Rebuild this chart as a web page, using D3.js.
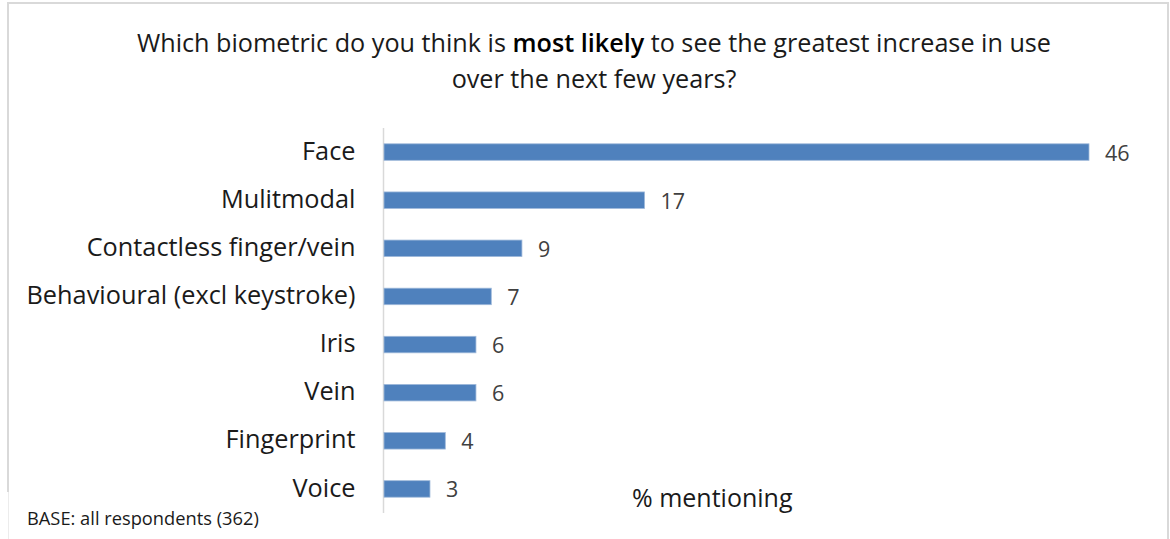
<!DOCTYPE html>
<html>
<head>
<meta charset="utf-8">
<script src="https://cdn.jsdelivr.net/npm/d3@7"></script>
<style>
  html, body { margin: 0; padding: 0; background: #fff; }
  svg { display: block; }
  text { font-family: "Open Sans", "Noto Sans", sans-serif; }
</style>
</head>
<body>
<svg id="chart" width="1170" height="539"></svg>
<script>
// Survey answers: share of respondents naming each biometric
const categories = [
  "Face",
  "Mulitmodal",
  "Contactless finger/vein",
  "Behavioural (excl keystroke)",
  "Iris",
  "Vein",
  "Fingerprint",
  "Voice"
];
const values = [46, 17, 9, 7, 6, 6, 4, 3];

const titleLine1 = [
  { text: "Which biometric do you think is ", bold: false },
  { text: "most likely", bold: true },
  { text: " to see the greatest increase in use", bold: false }
];
const titleLine2 = "over the next few years?";
const axisTitle = "% mentioning";
const baseNote = "BASE: all respondents (362)";

const data = categories.map((c, i) => ({ category: c, value: values[i] }));

const W = 1170, H = 539;
const svg = d3.select("#chart");

// frame around the chart area
const frame = svg.append("g");
frame.append("line").attr("x1", 8).attr("x2", 1168).attr("y1", 3).attr("y2", 3)
  .attr("stroke", "#d9d9d9").attr("stroke-width", 2);
frame.append("line").attr("x1", 8).attr("x2", 8).attr("y1", 2).attr("y2", 492)
  .attr("stroke", "#d9d9d9").attr("stroke-width", 2);
frame.append("line").attr("x1", 8.5).attr("x2", 8.5).attr("y1", 492).attr("y2", H)
  .attr("stroke", "#ececec").attr("stroke-width", 1);
frame.append("line").attr("x1", 1168).attr("x2", 1168).attr("y1", 2).attr("y2", H)
  .attr("stroke", "#d9d9d9").attr("stroke-width", 2);

// scales
const x = d3.scaleLinear().domain([0, 46]).range([384, 1089]);
const y = d3.scaleBand().domain(categories).range([128, 513])
  .paddingInner(0.657).paddingOuter(0.3285);

// title
const title = svg.append("text")
  .attr("x", 594).attr("y", 52)
  .attr("text-anchor", "middle")
  .attr("font-size", 25.2)
  .attr("fill", "#1a1a1a");
title.selectAll("tspan").data(titleLine1).join("tspan")
  .attr("font-weight", d => d.bold ? 600 : 400)
  .attr("fill", d => d.bold ? "#000" : "#1a1a1a")
  .text(d => d.text);
svg.append("text")
  .attr("x", 594).attr("y", 88)
  .attr("text-anchor", "middle")
  .attr("font-size", 25.2)
  .attr("fill", "#1a1a1a")
  .text(titleLine2);

// category axis (line only, no ticks)
const yAxis = d3.axisLeft(y).tickSize(0).tickPadding(28);
const gy = svg.append("g").attr("transform", "translate(383.5,0)").call(yAxis);
gy.select(".domain").attr("stroke", "#d9d9d9").attr("stroke-width", 1.5)
  .attr("d", "M0,128V513");
gy.selectAll(".tick text")
  .attr("font-family", "'Open Sans', 'Noto Sans', sans-serif")
  .attr("font-size", 25.3)
  .attr("fill", "#1a1a1a")
  .attr("dy", "0.3em");

// bars
svg.append("g").selectAll("rect").data(data).join("rect")
  .attr("x", x(0))
  .attr("y", d => y(d.category))
  .attr("width", d => x(d.value) - x(0))
  .attr("height", y.bandwidth())
  .attr("fill", "#4f81bd")
  .attr("stroke", "#9fb9da")
  .attr("stroke-width", 0.8);

// value labels
svg.append("g").selectAll("text").data(data).join("text")
  .attr("x", d => x(d.value) + 16)
  .attr("y", d => y(d.category) + y.bandwidth() / 2 + 8.5)
  .attr("font-size", 21.5)
  .attr("fill", "#404040")
  .text(d => d.value);

// axis caption
svg.append("text")
  .attr("x", 632).attr("y", 507)
  .attr("font-size", 25)
  .attr("fill", "#1a1a1a")
  .text(axisTitle);

// base note
svg.append("text")
  .attr("x", 27).attr("y", 525)
  .attr("font-size", 18.3)
  .attr("fill", "#1a1a1a")
  .text(baseNote);
</script>
</body>
</html>
